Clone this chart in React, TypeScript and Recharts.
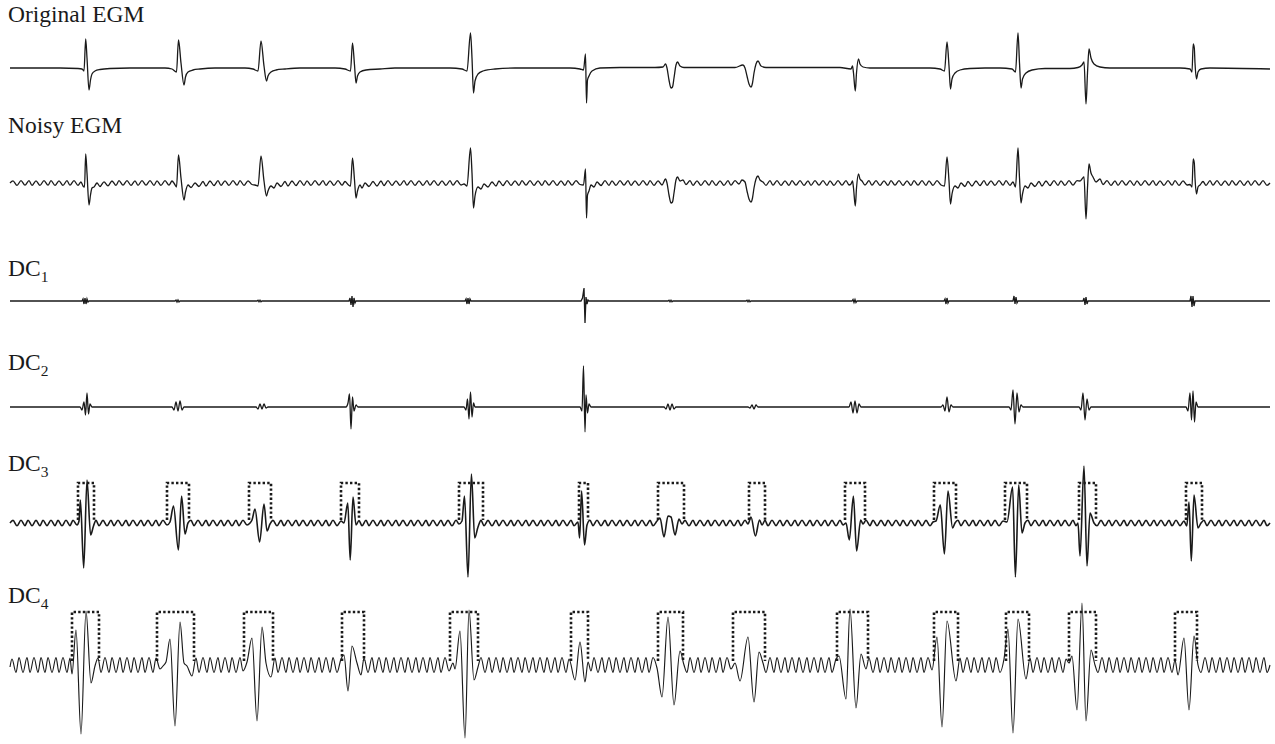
import React from 'react';
import { LineChart, Line, XAxis, YAxis } from 'recharts';

type P = [number, number];

// time (px-scaled samples) , amplitude (relative to trace baseline)
const originalEgm: P[] = [
  [10,0],[60,0],[78,-0.5],[82,-1],[84,-3],[85.7,29],[87,10],[89,-22],[90.5,-12],[92,-6],[95,-3],[100,-1.5],[110,-0.5],[130,0],
  [165,0],[172,-1],[176.5,-4],[178.5,28],[181,5],[184,-17],[185.5,-9],[188,-4],[193,-2],[200,-1],[215,0],
  [245,0],[253,-1],[258,-3],[261,27],[264,2],[266.5,-13],[268,-8],[271,-4],[276,-2],[285,-1],[300,0],
  [335,0],[345,-1],[350.5,-3],[352.5,25],[354.5,3],[356,-15],[357.5,-8],[360,-4],[366,-2],[380,-1],[395,0],
  [450,0],[462,-1],[467,-3],[470.5,35],[472,10],[473.5,-25],[475,-13],[478,-6],[483,-3],[495,-1],[515,0],
  [570,0],[580,-1],[583.5,-2],[585.5,14],[586.5,-35],[587.5,-12],[589,-8],[592,-3],[600,0],[620,0.5],
  [655,0.5],[663,1],[665.5,4],[667,0],[669,-12],[671,-20],[672.5,-19],[674,-10],[676,3],[677.5,6],[680,2],[684,0.5],
  [735,0.5],[743,3],[745,0],[747,-8],[749,-16],[751,-19],[752.5,-15],[754,-5],[756,4],[758,7],[761,2],[766,0.5],
  [840,0.5],[851,-1],[852.5,2],[853.5,-5],[855.3,-23],[856.5,-5],[858.5,9],[860,4],[863,1],[870,0],
  [930,0],[940,-1],[944.5,-3],[947,26],[949,2],[950.5,-21],[952,-11],[955,-5],[960,-2],[970,-0.5],[985,0],
  [1000,0],[1012,-1],[1015.5,-4],[1018,35],[1019.5,5],[1021,-20],[1022.5,-11],[1026,-5],[1032,-2],[1045,-0.5],
  [1070,-0.5],[1078,0.5],[1082,3],[1084,6],[1086,-36],[1087.5,-5],[1089,19],[1091,10],[1094,4],[1100,1],[1110,0],
  [1180,0],[1190,-1],[1192,-4],[1193.2,24],[1194.3,20],[1195,5],[1196.5,-11],[1198,-4],[1201,-1],[1210,0],[1270,-1],
];

const noisyEgm: P[] = [
  [10,0],[13,2.2],[17,-2.3],[21,2.3],[25,-2.2],[29,2.4],[32,-2.3],[36,2.2],[40,-2.4],[44,2.3],[48,-2.2],[51,2.3],[55,-2.3],[59,2.2],[63,-2.4],[67,2.3],[70,-2.2],[74,2.3],[78,-2.3],[81,1],
  [83,-3],[84.5,-4],[85.7,29],[87,10],[89,-22],[90.5,-12],[92,-5],[94,-4],[97,0],[100,-3.5],[104,1.2],[108,-2.8],[112,2],[116,-2.4],[119,2.3],[123,-2.2],[127,2.3],[131,-2.3],[135,2.2],[138,-2.4],[142,2.3],[146,-2.2],[150,2.3],[154,-2.3],[157,2.2],[161,-2.4],[165,2.3],[169,-2.2],[172,2],
  [174.5,-1],[176.5,-4],[178.5,28],[181,5],[184,-17],[185.5,-9],[188,-2],[191,-4.5],[195,0],[199,-3.5],[203,1.5],[206,-3],[210,2],[214,-2.5],[218,2.3],[221,-2.3],[225,2.2],[229,-2.4],[233,2.3],[237,-2.2],[240,2.3],[244,-2.3],[248,2.2],[252,-1.5],
  [255,-2],[258,-3],[261,27],[264,2],[266.5,-13],[268,-8],[271,-3],[274,-5],[277,0],[281,-3.5],[285,1.5],[288,-3],[292,2],[296,-2.5],[300,2.3],[304,-2.3],[307,2.2],[311,-2.4],[315,2.3],[319,-2.2],[323,2.3],[326,-2.3],[330,2.2],[334,-2.4],[338,2.3],[342,-2.2],[345,1.5],
  [348,-1.5],[350.5,-3],[352.5,25],[354.5,3],[356,-15],[357.5,-8],[360,-2],[362,-5],[365,0],[369,-3.5],[373,1.5],[377,-3],[381,2],[384,-2.5],[388,2.3],[392,-2.3],[396,2.2],[400,-2.4],[404,2.3],[407,-2.2],[411,2.3],[415,-2.3],[419,2.2],[423,-2.4],[427,2.3],[430,-2.2],[434,2.3],[438,-2.3],[442,2.2],[446,-2.4],[450,2.3],[453,-2.2],[457,2.3],[461,-2],
  [464,-1],[467,-3],[470.5,35],[472,10],[473.5,-25],[475,-13],[478,-4],[481,-6],[484,-1],[488,-4],[492,1],[496,-3],[499,2],[503,-2.5],[507,2.3],[511,-2.3],[515,2.2],[519,-2.4],[522,2.3],[526,-2.2],[530,2.3],[534,-2.3],[538,2.2],[542,-2.4],[545,2.3],[549,-2.2],[553,2.3],[557,-2.3],[561,2.2],[565,-2.4],[568,2.3],[572,-2.2],[576,2.3],[580,-1.5],
  [583.5,-2],[585.5,14],[586.5,-35],[587.5,-12],[589,-8],[591,-2],[594,-4],[597,1],[601,-2.5],[605,2.3],[609,-2.3],[612,2.2],[616,-2.4],[620,2.3],[624,-2.2],[628,2.3],[631,-2.3],[635,2.2],[639,-2.4],[643,2.3],[647,-2.2],[650,2.3],[654,-2.3],[658,2.2],[662,-2],
  [665.5,4],[667,0],[669,-12],[671,-20],[672.5,-19],[674,-10],[676,3],[677.5,6],[680,2],[683,3],[686,-1.5],[690,2.3],[693,-2.3],[697,2.2],[701,-2.4],[705,2.3],[709,-2.2],[712,2.3],[716,-2.3],[720,2.2],[724,-2.4],[728,2.3],[731,-2.2],[735,2.3],[739,-1],
  [742,3],[745,1],[747,-8],[749,-16],[751,-19],[752.5,-15],[754,-5],[756,4],[758,7],[760,3],[763,1],[766,-2.3],[770,2.3],[773,-2.2],[777,2.3],[781,-2.3],[785,2.2],[789,-2.4],[792,2.3],[796,-2.2],[800,2.3],[804,-2.3],[808,2.2],[811,-2.4],[815,2.3],[819,-2.2],[823,2.3],[827,-2.3],[830,2.2],[834,-2.4],[838,2.3],[842,-2.2],[846,2.3],[849,-2],
  [851,-1],[852.5,2],[853.5,-5],[855.3,-23],[856.5,-5],[858.5,9],[860,4],[862,2],[865,-2],[869,2.3],[872,-2.2],[876,2.3],[880,-2.3],[884,2.2],[888,-2.4],[891,2.3],[895,-2.2],[899,2.3],[903,-2.3],[907,2.2],[911,-2.4],[914,2.3],[918,-2.2],[922,2.3],[926,-2.3],[929,2.2],[933,-2.4],[937,2.3],[941,-2],
  [944.5,-3],[947,26],[949,2],[950.5,-21],[952,-11],[955,-3],[958,-5],[961,0],[965,-3.5],[968,1.5],[972,-3],[976,2],[980,-2.5],[984,2.3],[987,-2.3],[991,2.2],[995,-2.4],[999,2.3],[1003,-2.2],[1006,2.3],[1010,-2.3],[1013,1],
  [1015.5,-4],[1018,35],[1019.5,5],[1021,-20],[1022.5,-11],[1025,-3],[1028,-5],[1031,0],[1035,-3.5],[1039,1.5],[1042,-3],[1046,2],[1050,-2.5],[1054,2.3],[1058,-2.3],[1061,2.2],[1065,-2.4],[1069,2.3],[1073,-2.2],[1077,2.3],[1080,2],[1082,4],
  [1084,6],[1086,-36],[1087.5,-5],[1089,19],[1091,10],[1093,6],[1096,1],[1100,4],[1103,-1.5],[1107,2.3],[1111,-2.3],[1115,2.2],[1118,-2.4],[1122,2.3],[1126,-2.2],[1130,2.3],[1134,-2.3],[1137,2.2],[1141,-2.4],[1145,2.3],[1149,-2.2],[1153,2.3],[1156,-2.3],[1160,2.2],[1164,-2.4],[1168,2.3],[1172,-2.2],[1175,2.3],[1179,-2.3],[1183,2.2],[1187,-2],
  [1190,-1.5],[1192,-4],[1193.2,24],[1194.3,20],[1195,5],[1196.5,-11],[1198,-4],[1200,-2],[1203,1.5],[1206,-2.3],[1210,2.3],[1213,-2.2],[1217,2.3],[1221,-2.3],[1225,2.2],[1229,-2.4],[1232,2.3],[1236,-2.2],[1240,2.3],[1244,-2.3],[1248,2.2],[1251,-2.4],[1255,2.3],[1259,-2.2],[1263,2.3],[1267,-2.3],[1270,0],
];

const dc1: P[] = [
  [10,0],[82,0],[83,2],[84,-3],[85,3],[86,-3],[87,2],[88,-1],[89,0],
  [175,0],[176,1],[177,-1],[178,1],[179,-1],[180,0],
  [257,0],[258,0.8],[259,-0.8],[260,0.8],[261,-0.8],[262,0],
  [349,0],[350,3],[351,-4],[352,5],[353,-6],[354,3],[355,-2],[356,0],
  [465,0],[466,2],[467,-3],[468,3],[469,-3],[470,2],[471,0],
  [581,0],[582.5,3],[584,13],[585,-22],[586,4],[587,-3],[588,1],[589,0],
  [668,0],[669,0.8],[670,-0.8],[671,0.8],[672,-0.8],[673,0],
  [746,0],[747,0.8],[748,-0.8],[749,0.8],[750,-0.8],[751,0],
  [852,0],[853,1.5],[854,-1.5],[855,1.5],[856,-1.5],[857,0],
  [944,0],[945,2],[946,-3],[947,3],[948,-2],[949,0],
  [1013,0],[1014,5],[1015,-3],[1016,4],[1017,-2],[1018,0],
  [1083,0],[1084,3],[1085,-4],[1086,4],[1087,-3],[1088,0],
  [1190,0],[1191,5],[1192,-6],[1193,5],[1194,-5],[1195,0],[1270,0],
];

const dc2: P[] = [
  [10,0],[80,0],[82,-3],[84,5],[85.5,-8],[87,14],[88.5,-7],[90,3],[92,0],
  [172,0],[174,-3],[176,5],[178,-4],[180,6],[182,-3],[184,0],
  [256,0],[258,-2],[260,3],[262,-2],[264,3],[266,-1],[268,0],
  [346,0],[348,4],[349.5,13],[351,-22],[352.5,10],[354,-4],[356,2],[358,0],
  [464,0],[466,-3],[467.5,8],[469,-12],[470.5,15],[472,-10],[473.5,4],[475,0],
  [580,0],[582,-4],[583.5,41],[585,-25],[586,12],[587.5,-6],[589,3],[591,0],
  [664,0],[666,-2],[668,3],[670,-3],[672,3],[674,-2],[676,0],
  [748,0],[750,-1],[752,2],[754,-2],[756,2],[758,0],
  [849,0],[851,5],[853,-6],[855,6],[857,-6],[859,3],[861,0],
  [941,0],[943,2],[945,-4],[947,10],[949,-5],[951,2],[953,0],
  [1009,0],[1011,-3],[1013,17],[1015,-17],[1017,14],[1019,-5],[1021,2],[1023,0],
  [1079,0],[1081,-3],[1083,14],[1085,-13],[1087,8],[1089,-3],[1091,0],
  [1186,0],[1188,-4],[1190,14],[1191.5,-13],[1193,16],[1194.5,-15],[1196,5],[1198,0],[1270,0],
];

const dc3: P[] = [
  [10,0],[13,2.6],[17,-2.8],[21,2.7],[25,-2.6],[28,2.8],[32,-2.7],[36,2.6],[40,-2.8],[43,2.7],[47,-2.6],[51,2.8],[55,-2.7],[58,2.6],[62,-2.8],[66,2.7],[70,-2.6],[73,2.8],[77,-2],
  [79,2],[80.4,23],[83.7,-45],[87,43],[90.6,-12],[93.5,-3],[96,2.6],[99,-2.7],[103,2.6],[107,-2.8],[111,2.7],[114,-2.6],[118,2.8],[122,-2.7],[126,2.6],[129,-2.8],[133,2.7],[137,-2.6],[141,2.8],[144,-2.7],[148,2.6],[152,-2.8],[156,2.7],[159,-2.6],[163,2.8],[167,-2],
  [170,1],[173.5,17],[178.4,-27],[181.6,27],[185,-11],[188,0],[191,2.7],[194,-2.6],[198,2.8],[202,-2.7],[206,2.6],[209,-2.8],[213,2.7],[217,-2.6],[221,2.8],[224,-2.7],[228,2.6],[232,-2.8],[236,2.7],[239,-2.6],[243,2.8],[247,-2],
  [250,0],[252,3],[255,14],[259.6,-19],[264,19],[267,-8],[270,-1],[273,2.6],[277,-2.7],[281,2.6],[284,-2.8],[288,2.7],[292,-2.6],[296,2.8],[299,-2.7],[303,2.6],[307,-2.8],[311,2.7],[314,-2.6],[318,2.8],[322,-2.7],[326,2.6],[329,-2.8],[333,2.7],[337,-2.6],[341,2],
  [344,0],[347.8,20],[350.2,-37],[353,26],[356,-2],[359,2.5],[362,-2.8],[366,2.7],[369,-2.6],[373,2.8],[377,-2.7],[381,2.6],[384,-2.8],[388,2.7],[392,-2.6],[396,2.8],[399,-2.7],[403,2.6],[407,-2.8],[411,2.7],[414,-2.6],[418,2.8],[422,-2.7],[426,2.6],[429,-2.8],[433,2.7],[437,-2.6],[441,2.8],[444,-2.7],[448,2.6],[452,-2.8],[456,2.7],[459,-1],
  [462,2],[464.5,27],[468,-54],[471.4,49],[474.7,-15],[478,-4],[481,2.6],[484,-2.7],[488,2.6],[492,-2.8],[496,2.7],[499,-2.6],[503,2.8],[507,-2.7],[511,2.6],[514,-2.8],[518,2.7],[522,-2.6],[526,2.8],[529,-2.7],[533,2.6],[537,-2.8],[541,2.7],[544,-2.6],[548,2.8],[552,-2.7],[556,2.6],[559,-2.8],[563,2.7],[567,-2.6],[571,2.8],[574,-2.7],[578,1],
  [579.6,-15],[581.6,32],[584.5,-22],[587,-2],[590,2.7],[593,-2.6],[597,2.8],[601,-2.7],[605,2.6],[608,-2.8],[612,2.7],[616,-2.6],[620,2.8],[623,-2.7],[627,2.6],[631,-2.8],[635,2.7],[638,-2.6],[642,2.8],[646,-2.7],[650,2.6],[653,-2.8],[657,2],
  [660,5],[664,-14],[668,7],[671,6],[675,-12],[679,4],[682,-1],[685,2.6],[689,-2.8],[693,2.7],[696,-2.6],[700,2.8],[704,-2.7],[708,2.6],[711,-2.8],[715,2.7],[719,-2.6],[723,2.8],[726,-2.7],[730,2.6],[734,-2.8],[738,2.7],[741,-2.6],[745,2.8],[748,-1],
  [751,6],[755.4,-13],[759.5,3],[762,-2],[765,2.6],[768,-2.8],[772,2.7],[776,-2.6],[780,2.8],[783,-2.7],[787,2.6],[791,-2.8],[795,2.7],[798,-2.6],[802,2.8],[806,-2.7],[810,2.6],[813,-2.8],[817,2.7],[821,-2.6],[825,2.8],[828,-2.7],[832,2.6],[836,-2.8],[840,2.7],[843,-2],
  [846,0],[849.3,-17],[853.4,27],[856.6,-28],[860.7,3],[863,-1],[866,2.7],[870,-2.6],[873,2.8],[877,-2.7],[881,2.6],[885,-2.8],[888,2.7],[892,-2.6],[896,2.8],[900,-2.7],[903,2.6],[907,-2.8],[911,2.7],[915,-2.6],[918,2.8],[922,-2.7],[926,2.6],[930,-2.8],[933,1],
  [936,2],[940.3,18],[944.4,-31],[948,32],[952.6,-5],[955,0],[958,2.7],[961,-2.6],[965,2.8],[969,-2.7],[973,2.6],[976,-2.8],[980,2.7],[984,-2.6],[988,2.8],[991,-2.7],[995,2.6],[999,-2.8],[1003,2],
  [1007,1],[1012.6,36],[1015.4,-54],[1018.7,38],[1022,-10],[1025,0],[1028,2.7],[1031,-2.6],[1035,2.8],[1039,-2.7],[1043,2.6],[1046,-2.8],[1050,2.7],[1054,-2.6],[1058,2.8],[1061,-2.7],[1065,2.6],[1069,-2.8],[1073,2.7],[1076,-2.6],[1078,0],
  [1080,-33],[1084,57],[1087,-43],[1090,10],[1094,0],[1097,-2.7],[1101,2.6],[1105,-2.8],[1109,2.7],[1112,-2.6],[1116,2.8],[1120,-2.7],[1124,2.6],[1127,-2.8],[1131,2.7],[1135,-2.6],[1139,2.8],[1142,-2.7],[1146,2.6],[1150,-2.8],[1154,2.7],[1157,-2.6],[1161,2.8],[1165,-2.7],[1169,2.6],[1172,-2.8],[1176,2.7],[1180,-2.6],[1184,2],
  [1186.8,-3],[1189,21],[1191.3,-38],[1194,28],[1198,-5],[1201,0],[1204,2.7],[1207,-2.6],[1211,2.8],[1215,-2.7],[1219,2.6],[1222,-2.8],[1226,2.7],[1230,-2.6],[1234,2.8],[1237,-2.7],[1241,2.6],[1245,-2.8],[1249,2.7],[1252,-2.6],[1256,2.8],[1260,-2.7],[1264,2.6],[1267,-2.8],[1270,0],
];

const dc4: P[] = [
  [10,-2],[12,6],[16,-7.5],[19,7.5],[23,-7.5],[27,7.5],[30,-7.5],[34,7.5],[38,-7.5],[41,7.5],[45,-7.5],[48,7.5],[52,-7.5],[56,7.5],[59,-7.5],[63,7.5],[67,-7.5],[70,7],
  [72,-9],[76,35],[81,-69],[86,54],[91,-18],[95,-1],
  [98,7],[101,-7.5],[105,7.5],[109,-7.5],[112,7.5],[116,-7.5],[120,7.5],[123,-7.5],[127,7.5],[131,-7.5],[134,7.5],[138,-7.5],[142,7.5],[145,-7.5],[149,7.5],[153,-7.5],[156,7],
  [160,-4],[163,-1],[166,3],[170,26],[175,-61],[180,43],[184,2],[187,-1],[192,-11],
  [196,7],[199,-7.5],[203,7.5],[207,-7.5],[210,7.5],[214,-7.5],[218,7.5],[221,-7.5],[225,7.5],[229,-7.5],[232,7.5],[236,-7.5],[240,7.5],[243,-6],
  [247,3],[252,27],[257,-56],[262,38],[266,2],[271,-12],
  [275,7],[278,-7.5],[282,7.5],[286,-7.5],[289,7.5],[293,-7.5],[297,7.5],[300,-7.5],[304,7.5],[308,-7.5],[311,7.5],[315,-7.5],[319,7.5],[322,-7.5],[326,7.5],[330,-7.5],[333,7.5],[337,-7.5],[341,6],
  [344,10],[348,-26],[352,19],[357,2],[361,-10],
  [364,7],[368,-7.5],[372,7.5],[375,-7.5],[379,7.5],[383,-7.5],[386,7.5],[390,-7.5],[394,7.5],[397,-7.5],[401,7.5],[405,-7.5],[408,7.5],[412,-7.5],[416,7.5],[419,-7.5],[423,7.5],[427,-7.5],[430,7.5],[434,-7.5],[438,7.5],[441,-7.5],[445,7.5],[449,-6],
  [453,2],[455,-4],[460,34],[465,-73],[469,55],[474,-15],[478,-2],
  [481,7.5],[485,-7.5],[489,7.5],[492,-7.5],[496,7.5],[500,-7.5],[503,7.5],[507,-7.5],[511,7.5],[514,-7.5],[518,7.5],[522,-7.5],[525,7.5],[529,-7.5],[533,7.5],[536,-7.5],[540,7.5],[544,-7.5],[547,7.5],[551,-7.5],[555,7.5],[558,-7.5],[562,7.5],[566,-7.5],[569,6],
  [575,-15],[580,23],[585,-17],[588,3],
  [591,-6],[594,7.5],[598,-7.5],[602,7.5],[605,-7.5],[609,7.5],[613,-7.5],[616,7.5],[620,-7.5],[624,7.5],[627,-7.5],[631,7.5],[635,-7.5],[638,7.5],[642,-7.5],[646,7.5],[649,-7.5],[653,7.5],[657,-3],
  [662,-32],[668,48],[674,-40],[680,14],[684,0],
  [687,-7.5],[690,7.5],[694,-7.5],[698,7.5],[701,-7.5],[705,7.5],[709,-7.5],[712,7.5],[716,-7.5],[720,7.5],[723,-7.5],[727,7.5],[731,-4],
  [735,2],[740,-16],[748,28],[754,-37],[759,13],[763,2],
  [766,-7.5],[770,7.5],[774,-7.5],[777,7.5],[781,-7.5],[785,7.5],[788,-7.5],[792,7.5],[796,-7.5],[799,7.5],[803,-7.5],[807,7.5],[810,-7.5],[814,7.5],[818,-7.5],[821,7.5],[825,-7.5],[829,7.5],[832,-7.5],[836,6],
  [839,9],[846,-34],[850,56],[856,-43],[861,11],[866,-4],
  [869,7],[873,-7.5],[877,7.5],[880,-7.5],[884,7.5],[888,-7.5],[891,7.5],[895,-7.5],[899,7.5],[902,-7.5],[906,7.5],[910,-7.5],[913,7.5],[917,-7.5],[921,7.5],[924,-7.5],[928,7.5],[932,-5],
  [937,28],[942,-62],[947,44],[956,-16],
  [960,7],[963,-7.5],[967,7.5],[971,-7.5],[974,7.5],[978,-7.5],[982,7.5],[985,-7.5],[989,7.5],[993,-7.5],[996,7.5],[1000,-7.5],[1004,6],
  [1008,36],[1013,-68],[1018,46],[1026,-14],
  [1030,7],[1033,-7.5],[1037,7.5],[1041,-7.5],[1044,7.5],[1048,-7.5],[1052,7.5],[1055,-7.5],[1059,7.5],[1063,-7.5],[1066,6],
  [1069,2],[1072,9],[1077,-45],[1082,62],[1086,-56],[1091,15],[1095,0],
  [1098,-7.5],[1102,7.5],[1106,-7.5],[1109,7.5],[1113,-7.5],[1117,7.5],[1120,-7.5],[1124,7.5],[1128,-7.5],[1131,7.5],[1135,-7.5],[1139,7.5],[1142,-7.5],[1146,7.5],[1150,-7.5],[1153,7.5],[1157,-7.5],[1161,7.5],[1164,-7.5],[1168,7.5],[1172,-7.5],[1175,5],
  [1178,-10],[1184,27],[1189,-45],[1194,29],[1198,0],
  [1201,-7.5],[1205,7.5],[1209,-7.5],[1212,7.5],[1216,-7.5],[1220,7.5],[1223,-7.5],[1227,7.5],[1231,-7.5],[1234,7.5],[1238,-7.5],[1242,7.5],[1245,-7.5],[1249,7.5],[1253,-7.5],[1256,7.5],[1260,-7.5],[1264,7.5],[1267,-7.5],[1270,0],
];

// detection windows (start, end) and levels
const dc3WindowStart = [78, 167, 249, 341, 459, 579, 658, 749, 845, 934, 1005, 1079, 1186];
const dc3WindowEnd = [94, 189, 271, 359, 483, 588, 684, 765, 865, 956, 1027, 1096, 1202];
const dc3WindowLevels = [3, 40];
const dc4WindowStart = [72, 157, 244, 342, 450, 571, 658, 733, 837, 934, 1006, 1069, 1175];
const dc4WindowEnd = [99, 194, 273, 364, 478, 588, 683, 765, 868, 958, 1029, 1096, 1197];
const dc4WindowLevels = [4, 53];

const traceLabels = ['Original EGM', 'Noisy EGM', 'DC', 'DC', 'DC', 'DC'];
const traceSubscripts = ['', '', '1', '2', '3', '4'];

const W = 1275;
const INK = '#1a1a1a';
const SERIF = '"Liberation Serif", Tinos, "Times New Roman", serif';

const rows = (pts: P[]) => pts.map(([t, v]) => ({ t, v }));

const windowRows = (starts: number[], ends: number[], levels: number[]) => {
  const out: { t: number; v: number | null }[] = [];
  starts.forEach((s, i) => {
    const e = ends[i];
    out.push({ t: s, v: levels[0] }, { t: s, v: levels[1] }, { t: e, v: levels[1] }, { t: e, v: levels[0] }, { t: e + 0.01, v: null });
  });
  return out;
};

type TraceProps = {
  center: number;
  half: number;
  data: P[];
  curve?: 'monotone' | 'linear';
  width?: number;
  windows?: { t: number; v: number | null }[];
};

function Trace({ center, half, data, curve = 'monotone', width = 1.3, windows }: TraceProps) {
  return (
    <div style={{ position: 'absolute', left: 0, top: center - half, width: W, height: half * 2 }}>
      <LineChart width={W} height={half * 2} margin={{ top: 0, right: 0, bottom: 0, left: 0 }}>
        <XAxis type="number" dataKey="t" domain={[0, W]} hide allowDataOverflow />
        <YAxis type="number" domain={[-half, half]} hide allowDataOverflow />
        {windows && (
          <Line
            data={windows}
            dataKey="v"
            type="linear"
            stroke={INK}
            strokeWidth={2.6}
            strokeDasharray="2.4 2.2"
            dot={false}
            connectNulls={false}
            isAnimationActive={false}
          />
        )}
        <Line
          data={rows(data)}
          dataKey="v"
          type={curve}
          stroke={INK}
          strokeWidth={width}
          dot={false}
          isAnimationActive={false}
        />
      </LineChart>
    </div>
  );
}

const labelBaselines = [22, 133, 276, 370, 471, 603];

export default function App() {
  return (
    <div style={{ position: 'absolute', left: 0, top: 0, width: W, height: 744, background: '#fff', overflow: 'hidden' }}>
      {traceLabels.map((lab, i) => (
        <div
          key={i}
          style={{
            position: 'absolute',
            left: 8,
            top: labelBaselines[i] - 21,
            fontFamily: SERIF,
            fontSize: 23.5,
            lineHeight: '26px',
            color: INK,
            whiteSpace: 'nowrap',
          }}
        >
          {lab}
          {traceSubscripts[i] && (
            <span style={{ fontSize: 15.5, position: 'relative', top: 6 }}>{traceSubscripts[i]}</span>
          )}
        </div>
      ))}
      <Trace center={68} half={45} data={originalEgm} />
      <Trace center={183} half={45} data={noisyEgm} />
      <Trace center={301} half={30} data={dc1} curve="linear" />
      <Trace center={407} half={45} data={dc2} />
      <Trace center={523} half={60} data={dc3} width={1.6} windows={windowRows(dc3WindowStart, dc3WindowEnd, dc3WindowLevels)} />
      <Trace center={665} half={79} data={dc4} width={1.15} windows={windowRows(dc4WindowStart, dc4WindowEnd, dc4WindowLevels)} />
    </div>
  );
}
